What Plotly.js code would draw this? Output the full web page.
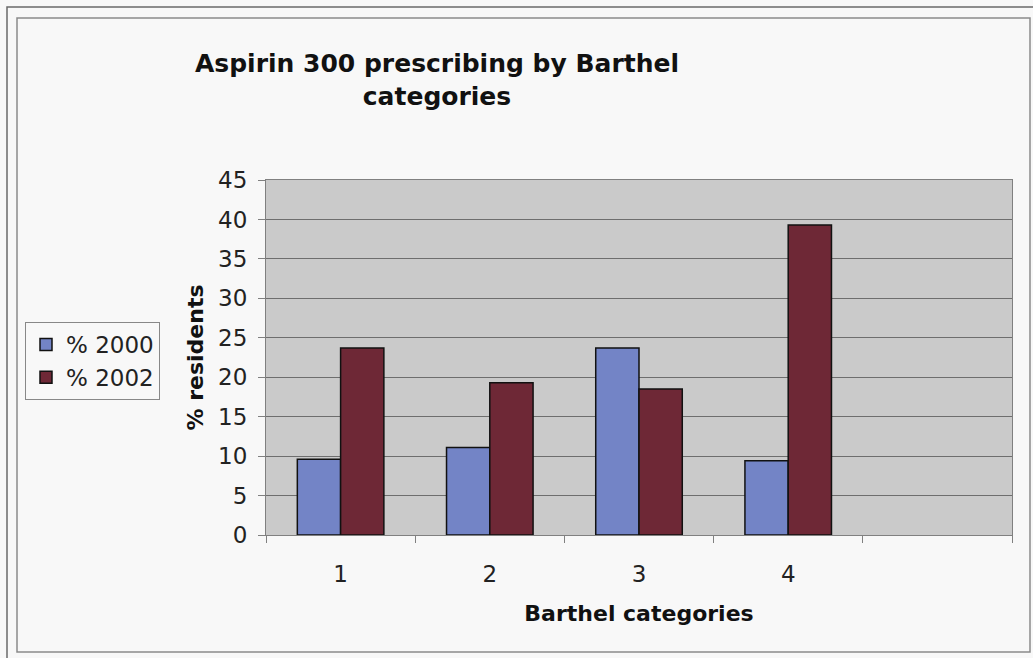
<!DOCTYPE html>
<html>
<head>
<meta charset="utf-8">
<script src="https://cdn.plot.ly/plotly-3.0.1.min.js"></script>
<style>
  html, body { margin: 0; padding: 0; background: #f7f7f7; }
  #chart { width: 1033px; height: 658px; }
</style>
</head>
<body>
<div id="chart"></div>
<script>
// Data
const categories = [1, 2, 3, 4];
const categoryLabels = ['1', '2', '3', '4'];
const pct2000 = [9.6, 11.1, 23.7, 9.4];
const pct2002 = [23.7, 19.3, 18.5, 39.3];
const seriesNames = ['% 2000', '% 2002'];
const yTicks = [0, 5, 10, 15, 20, 25, 30, 35, 40, 45];

const font = 'DejaVu Sans, Verdana, sans-serif';

const traces = [
  {
    type: 'bar', name: seriesNames[0], x: categories, y: pct2000,
    marker: { color: '#7384c6', line: { color: '#111111', width: 1.5 } }
  },
  {
    type: 'bar', name: seriesNames[1], x: categories, y: pct2002,
    marker: { color: '#6e2836', line: { color: '#111111', width: 1.5 } }
  }
];

// pixel helpers to paper coords (plot area: x 266-1012, y 180-535)
const L = 266, R = 1012, T = 180, B = 535;
const px = v => (v - L) / (R - L);
const py = v => (B - v) / (B - T);

const layout = {
  width: 1033, height: 658,
  margin: { l: L, r: 1033 - R, t: T, b: 658 - B, pad: 0 },
  paper_bgcolor: '#f8f8f8',
  plot_bgcolor: '#cacaca',
  font: { family: font, color: '#222222', size: 23 },
  barmode: 'group',
  bargap: 0.42,
  bargroupgap: 0,
  title: {
    text: 'Aspirin 300 prescribing by Barthel<br>categories',
    font: { family: 'DejaVu Sans, sans-serif', size: 25, color: '#111111', weight: 'bold' },
    x: 437 / 1033, xanchor: 'center',
    y: 1 - 72 / 658, yanchor: 'top'
  },
  xaxis: {
    range: [0.5, 5.5],
    tickmode: 'array',
    tickvals: categories,
    ticktext: categoryLabels,
    ticks: '',
    ticklabelstandoff: 18,
    showgrid: false,
    zeroline: false,
    showline: true, linecolor: '#808080', linewidth: 1, mirror: true,
    minor: { tick0: 0.5, dtick: 1, ticks: 'outside', ticklen: 7, tickcolor: '#808080', tickwidth: 1, showgrid: false },
    tickfont: { family: font, size: 23, color: '#222222' },
    title: {
      text: 'Barthel categories',
      font: { family: font, size: 22, color: '#111111', weight: 'bold' },
      standoff: 20
    },
    fixedrange: true
  },
  yaxis: {
    range: [0, 45],
    tickmode: 'array',
    tickvals: yTicks,
    ticks: 'outside', ticklen: 7, tickcolor: '#808080',
    ticklabelstandoff: 6,
    showgrid: true, gridcolor: '#6e6e6e', gridwidth: 1,
    zeroline: false,
    showline: true, linecolor: '#808080', linewidth: 1, mirror: true,
    tickfont: { family: font, size: 23, color: '#222222' },
    title: {
      text: '% residents',
      font: { family: font, size: 22, color: '#111111', weight: 'bold' },
      standoff: 8
    },
    fixedrange: true
  },
  showlegend: true,
  legend: {
    x: px(25), xanchor: 'left',
    y: py(322), yanchor: 'top',
    bgcolor: '#f8f8f8',
    bordercolor: '#888888', borderwidth: 1,
    font: { family: font, size: 23, color: '#222222' },
    itemwidth: 30,
    tracegroupgap: 0
  },
  shapes: [
    { type: 'rect', xref: 'paper', yref: 'paper',
      x0: px(17), x1: px(1030), y0: py(652), y1: py(18),
      line: { color: '#8a8a8a', width: 1.5 }, fillcolor: 'rgba(0,0,0,0)', layer: 'below' },
    { type: 'path', xref: 'paper', yref: 'paper',
      path: 'M ' + px(7) + ' ' + py(658) + ' L ' + px(7) + ' ' + py(7) + ' L ' + px(1033) + ' ' + py(7),
      line: { color: '#6a6a6a', width: 1.5 }, layer: 'below' }
  ]
};

Plotly.newPlot('chart', traces, layout, { displayModeBar: false, staticPlot: true });
</script>
</body>
</html>
